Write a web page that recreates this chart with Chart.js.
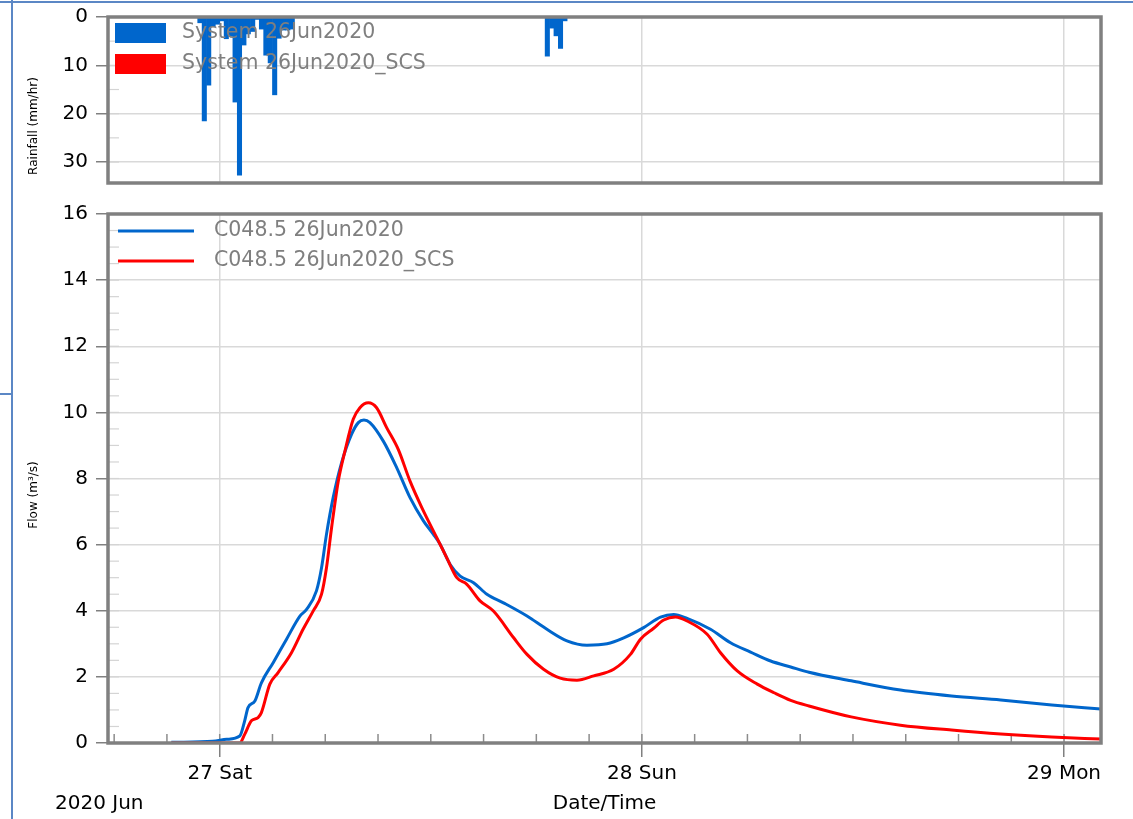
<!DOCTYPE html>
<html>
<head>
<meta charset="utf-8">
<title>Rainfall and flow</title>
<script src="https://cdn.jsdelivr.net/npm/chart.js@4.4.1/dist/chart.umd.min.js"></script>
<style>
  body { margin: 0; background: #fff; font-family: 'DejaVu Sans', sans-serif; }
  #page { position: relative; width: 1133px; height: 819px; overflow: hidden; }
  .edgeTop { position: absolute; left: 0; top: 1px; width: 1133px; height: 2px; background: #5b87c5; }
  .edgeLeft { position: absolute; left: 11px; top: 0; width: 2px; height: 819px; background: #5b87c5; }
  .stub { position: absolute; left: 0; top: 393px; width: 12px; height: 2px; background: #5b87c5; }
  #rainBox { position: absolute; left: 0; top: 0; width: 1133px; height: 195px; }
  #flowBox { position: absolute; left: 0; top: 195px; width: 1133px; height: 624px; }
  .ytitle { position: absolute; font-size: 12px; color: #000; white-space: nowrap;
            transform: translate(-50%, -50%) rotate(-90deg); }
  .month { position: absolute; left: 55px; top: 790px; font-size: 20px; line-height: 24px; color: #000; }
</style>
</head>
<body>
<div id="page">
  <div class="edgeTop"></div>
  <div class="edgeLeft"></div>
  <div class="stub"></div>
  <div id="rainBox"><canvas id="rainChart"></canvas></div>
  <div id="flowBox"><canvas id="flowChart"></canvas></div>
  <div class="ytitle" style="left:33px; top:126px;">Rainfall (mm/hr)</div>
  <div class="ytitle" style="left:33px; top:495px;">Flow (m³/s)</div>
  <div class="month">2020 Jun</div>
</div>
<script>
// DATA (time in hours from 27 Jun 2020 00:00)
const dayTicks = [0, 24, 48];
const dayLabels = ['27 Sat', '28 Sun', '29 Mon'];
const rainTicks = [0, 10, 20, 30];
const flowTicks = [0, 2, 4, 6, 8, 10, 12, 14, 16];

// rainfall, 15 min blocks (start hour of each block)
const rainStart = [-1.25, -1, -0.75, -0.5, -0.25, 0, 0.25, 0.5, 0.75, 1, 1.25, 1.5, 1.75, 2, 2.25, 2.5, 2.75, 3, 3.25, 3.5, 3.75, 4,
                   18.5, 18.75, 19, 19.25, 19.5];
const rainValues = [1.2, 21.5, 14.1, 2.0, 1.5, 0.8, 4.5, 4.0, 17.6, 32.7, 5.8, 3.5, 3.0, 0.5, 2.5, 7.9, 9.5, 16.1, 4.4, 2.7, 2.7, 2.5,
                    8.1, 2.3, 3.9, 6.5, 0.8];
const rainNames = ['System 26Jun2020', 'System 26Jun2020_SCS'];

// flow hydrographs
const blueHours = [-2.75, -0.4, 0.4, 1.14, 1.42, 1.61, 2.0, 2.37, 3.04, 3.8, 4.56, 4.94, 5.5, 5.79, 6.07, 6.45, 6.93, 7.5, 7.88, 8.2,
                   8.54, 9.3, 10.06, 10.82, 11.58, 12.15, 12.53, 13.1, 13.67, 14.43, 15.19, 16.13, 17.47, 18.6, 19.74, 20.88,
                   22.02, 22.97, 24.1, 25.06, 25.81, 26.57, 27.9, 29.04, 30.18, 31.32, 32.46, 33.5, 35.9, 38.7, 41.6, 44.4, 47.3, 50.1];
const blueFlow = [0.02, 0.05, 0.11, 0.21, 0.67, 1.07, 1.27, 1.82, 2.43, 3.14, 3.84, 4.04, 4.6, 5.3, 6.31, 7.42, 8.48, 9.34, 9.69, 9.77,
                  9.69, 9.13, 8.33, 7.42, 6.72, 6.31, 6.01, 5.4, 5.05, 4.85, 4.5, 4.24, 3.84, 3.44, 3.09, 2.96,
                  3.0, 3.18, 3.49, 3.81, 3.89, 3.77, 3.44, 3.03, 2.75, 2.48, 2.3, 2.14, 1.88, 1.6, 1.42, 1.3, 1.15, 1.03];
const redHours = [-2.75, 1.14, 1.42, 1.8, 2.18, 2.37, 2.85, 3.32, 4.08, 4.74, 5.31, 5.79, 6.07, 6.36, 6.74, 7.12, 7.59, 7.97, 8.45, 8.92,
                  9.49, 10.15, 10.82, 11.49, 12.34, 12.91, 13.48, 14.05, 14.8, 15.56, 16.7, 17.47, 18.41, 19.36, 20.31, 21.26,
                  22.4, 23.35, 23.92, 24.67, 25.24, 25.91, 26.57, 27.71, 28.47, 29.42, 30.56, 31.51, 32.46, 33.5, 35.9, 38.7, 41.6, 44.4, 47.3, 50.1];
const redFlow = [0, 0, 0.26, 0.67, 0.77, 0.92, 1.78, 2.13, 2.73, 3.44, 3.99, 4.5, 5.3, 6.51, 7.92, 8.83, 9.79, 10.14, 10.29, 10.14,
                 9.54, 8.88, 7.92, 7.12, 6.21, 5.6, 5.0, 4.8, 4.3, 3.99, 3.19, 2.68, 2.23, 1.96, 1.9, 2.03,
                 2.23, 2.68, 3.14, 3.47, 3.72, 3.81, 3.69, 3.29, 2.73, 2.18, 1.78, 1.52, 1.29, 1.12, 0.79, 0.54, 0.39, 0.27, 0.18, 0.12];
const flowNames = ['C048.5 26Jun2020', 'C048.5 26Jun2020_SCS'];

const BLUE = '#0066cc';
const RED = '#ff0000';
const GRID = '#d9d9d9';
const AXIS = '#808080';
const FONT = 'DejaVu Sans';

// PLUGINS
// thick grey box round the plot area
const frame = {
  id: 'frame',
  afterDatasetsDraw(chart) {
    const { ctx, chartArea: a } = chart;
    ctx.save();
    ctx.strokeStyle = AXIS;
    ctx.lineWidth = 3.5;
    ctx.strokeRect(a.left, a.top, a.right - a.left, a.bottom - a.top);
    ctx.restore();
  }
};

// short minor tick marks inside the plot
const minorTicks = {
  id: 'minorTicks',
  beforeDatasetsDraw(chart, args, opts) {
    const { ctx, chartArea: a, scales } = chart;
    ctx.save();
    if (opts.y) {
      const s = scales.y;
      ctx.strokeStyle = opts.y.color;
      ctx.lineWidth = 1.2;
      const n = Math.floor((s.max - s.min) / opts.y.step);
      for (let i = 1; i <= n; i++) {
        const py = s.getPixelForValue(s.min + i * opts.y.step);
        ctx.beginPath();
        ctx.moveTo(a.left, py);
        ctx.lineTo(a.left + opts.y.len, py);
        ctx.stroke();
      }
    }
    if (opts.x) {
      const s = scales.x;
      ctx.strokeStyle = opts.x.color;
      ctx.lineWidth = 1.5;
      const first = Math.ceil(s.min / opts.x.step);
      const last = Math.floor(s.max / opts.x.step);
      for (let i = first; i <= last; i++) {
        const px = s.getPixelForValue(i * opts.x.step);
        ctx.beginPath();
        ctx.moveTo(px, a.bottom);
        ctx.lineTo(px, a.bottom - opts.x.len);
        ctx.stroke();
      }
    }
    ctx.restore();
  }
};

// legend drawn inside the plot, over the data
const insideLegend = {
  id: 'insideLegend',
  afterDatasetsDraw(chart, args, o) {
    const { ctx, chartArea: a } = chart;
    ctx.save();
    ctx.font = o.size + 'px "' + FONT + '"';
    ctx.textBaseline = 'middle';
    chart.data.datasets.forEach((ds, i) => {
      const x0 = a.left + o.left;
      const cy = a.top + o.top + i * o.row;
      if (o.kind === 'box') {
        ctx.fillStyle = ds.backgroundColor;
        ctx.fillRect(x0, cy - o.boxH / 2, o.boxW, o.boxH);
      } else {
        ctx.strokeStyle = ds.borderColor;
        ctx.lineWidth = ds.borderWidth;
        ctx.beginPath();
        ctx.moveTo(x0, cy);
        ctx.lineTo(x0 + o.boxW, cy);
        ctx.stroke();
      }
      ctx.fillStyle = o.color;
      ctx.fillText(ds.label, x0 + o.boxW + o.gap, cy);
    });
    ctx.restore();
  }
};

// fixed axis width, and no extra room for the end labels
const yFit = scale => {
  scale.width = 108;
  scale.paddingTop = 0;
  scale.paddingBottom = 0;
};
const setTicks = list => scale => { scale.ticks = list.map(v => ({ value: v })); };

// RAINFALL CHART (SCS rain is the same as System rain, hidden under it)
new Chart(document.getElementById('rainChart'), {
  type: 'bar',
  data: {
    datasets: rainNames.map((name, i) => ({
      label: name,
      data: rainStart.map((t, k) => ({ x: t + 0.125, y: rainValues[k] })),
      backgroundColor: i === 0 ? BLUE : RED,
      hidden: i === 1,
      borderWidth: 0,
      grouped: false,
      barPercentage: 1,
      categoryPercentage: 1
    }))
  },
  options: {
    responsive: true,
    maintainAspectRatio: false,
    animation: false,
    layout: { padding: { left: 0, top: 17, right: 32, bottom: 12 } },
    plugins: {
      legend: { display: false },
      tooltip: { enabled: false },
      minorTicks: { y: { step: 5, len: 11, color: '#d4d4d4' } },
      insideLegend: { kind: 'box', left: 7, top: 16, row: 31, boxW: 51, boxH: 20, gap: 16, size: 20.5, color: '#7f7f7f' }
    },
    scales: {
      x: {
        type: 'linear',
        min: -6.35,
        max: 50.1,
        offset: false,
        afterBuildTicks: setTicks(dayTicks),
        afterFit: scale => { scale.height = 0; },
        ticks: { display: false },
        grid: { color: GRID, lineWidth: 1.5, drawTicks: false, offset: false },
        border: { display: false }
      },
      y: {
        reverse: true,
        min: 0,
        max: 34.34,
        afterBuildTicks: setTicks(rainTicks),
        afterFit: yFit,
        ticks: { padding: 8, color: '#000', font: { family: FONT, size: 20 } },
        grid: { color: GRID, lineWidth: 1.5, tickLength: 12, tickColor: AXIS, tickWidth: 1.5 },
        border: { display: false }
      }
    }
  },
  plugins: [minorTicks, frame, insideLegend]
});

// FLOW CHART
const flowSeries = [
  { label: flowNames[0], hours: blueHours, flow: blueFlow, color: BLUE, order: 2 },
  { label: flowNames[1], hours: redHours, flow: redFlow, color: RED, order: 1 }
];

new Chart(document.getElementById('flowChart'), {
  type: 'line',
  data: {
    datasets: flowSeries.map(s => ({
      label: s.label,
      data: s.hours.map((h, k) => ({ x: h, y: s.flow[k] })),
      borderColor: s.color,
      backgroundColor: s.color,
      borderWidth: 3,
      pointRadius: 0,
      cubicInterpolationMode: 'monotone',
      fill: false,
      order: s.order
    }))
  },
  options: {
    responsive: true,
    maintainAspectRatio: false,
    animation: false,
    layout: { padding: { left: 0, top: 19, right: 32, bottom: 2 } },
    plugins: {
      legend: { display: false },
      tooltip: { enabled: false },
      minorTicks: {
        y: { step: 0.5, len: 11, color: '#d4d4d4' },
        x: { step: 3, len: 9, color: '#8c8c8c' }
      },
      insideLegend: { kind: 'line', left: 10, top: 17, row: 30, boxW: 76, boxH: 3, gap: 20, size: 20.5, color: '#7f7f7f' }
    },
    scales: {
      x: {
        type: 'linear',
        min: -6.35,
        max: 50.1,
        afterBuildTicks: setTicks(dayTicks),
        afterFit: scale => { scale.height = 74; },
        ticks: {
          padding: 5,
          color: '#000',
          font: { family: FONT, size: 20 },
          callback: v => dayLabels[dayTicks.indexOf(v)]
        },
        grid: { color: GRID, lineWidth: 1.5, tickLength: 14, tickColor: AXIS, tickWidth: 1.5 },
        border: { display: false },
        title: {
          display: true,
          text: 'Date/Time',
          color: '#000',
          font: { family: FONT, size: 20 },
          padding: { top: 0, bottom: 1 }
        }
      },
      y: {
        min: 0,
        max: 16,
        afterBuildTicks: setTicks(flowTicks),
        afterFit: yFit,
        ticks: { padding: 8, color: '#000', font: { family: FONT, size: 20 } },
        grid: { color: GRID, lineWidth: 1.5, tickLength: 12, tickColor: AXIS, tickWidth: 1.5 },
        border: { display: false }
      }
    }
  },
  plugins: [minorTicks, frame, insideLegend]
});
</script>
</body>
</html>
